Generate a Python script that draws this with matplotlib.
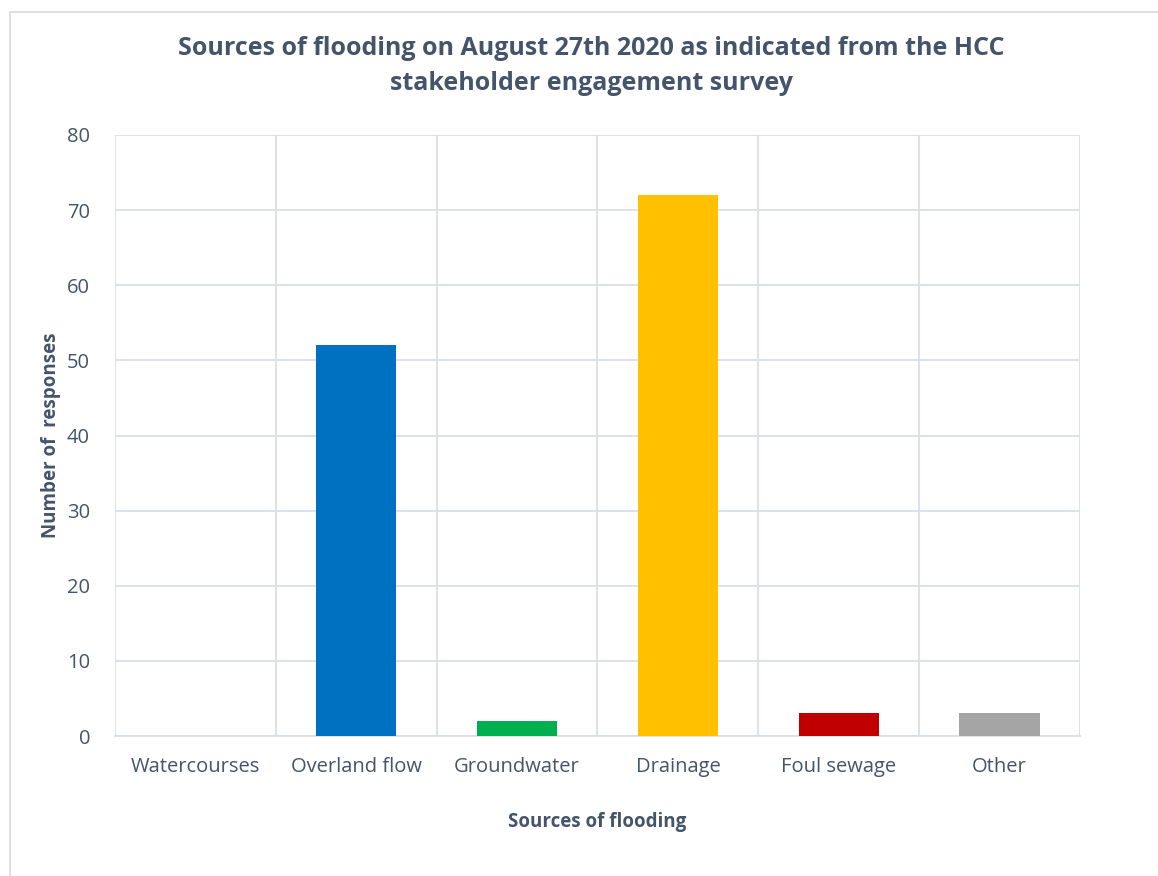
import matplotlib.pyplot as plt
import matplotlib.ticker as mticker
from matplotlib.patches import Rectangle
import numpy as np

categories = ["Watercourses", "Overland flow", "Groundwater", "Drainage", "Foul sewage", "Other"]
responses = [0, 52, 2, 72, 3, 3]
colors = ["#4472C4", "#0070C0", "#00B050", "#FFC000", "#C00000", "#A5A5A5"]

text_color = "#44546A"
grid_color = "#D9DEE8"

plt.rcParams['font.family'] = ['Open Sans', 'DejaVu Sans']

fig = plt.figure(figsize=(11.58, 8.76), dpi=100)
ax = fig.add_axes([115 / 1158, 1 - 736 / 876, 965 / 1158, 601 / 876])

# outer chart border
fig.patches.append(Rectangle((10 / 1158, -0.01), 1.02, 1 - 12 / 876 + 0.01,
                             transform=fig.transFigure, fill=False,
                             edgecolor="#D9D9D9", linewidth=1.2))

x = np.arange(len(categories))
ax.bar(x, responses, width=0.5, color=colors, zorder=3)

ax.set_xlim(-0.5, len(categories) - 0.5)
ax.set_ylim(0, 80)
ax.yaxis.set_major_locator(mticker.MultipleLocator(10))
ax.set_xticks(x)
ax.set_xticklabels(categories)
ax.set_xticks(np.arange(-0.5, len(categories)), minor=True)

ax.grid(axis="y", which="major", color=grid_color, linewidth=1.3, zorder=0)
ax.grid(axis="x", which="minor", color=grid_color, linewidth=1.3, zorder=0)
ax.grid(axis="x", which="major", visible=False)

for side in ["top", "right", "left"]:
    ax.spines[side].set_visible(False)
ax.spines["bottom"].set_color(grid_color)
ax.spines["bottom"].set_linewidth(1.3)

ax.tick_params(axis="both", which="both", length=0, labelsize=14.5, labelcolor=text_color)
ax.tick_params(axis="x", pad=15)
ax.tick_params(axis="y", pad=18)

ax.set_xlabel("Sources of flooding", fontsize=13.5, fontweight="bold", color=text_color, labelpad=25)
ax.set_ylabel("Number of  responses", fontsize=13.5, fontweight="bold", color=text_color, labelpad=4)

fig.text(591 / 1158, 1 - 66 / 876, "Sources of flooding on August 27th 2020 as indicated from the HCC\nstakeholder engagement survey",
         ha="center", va="center", fontsize=18, fontweight="bold", color=text_color, linespacing=1.5)

fig.savefig("out.png", dpi=100)
